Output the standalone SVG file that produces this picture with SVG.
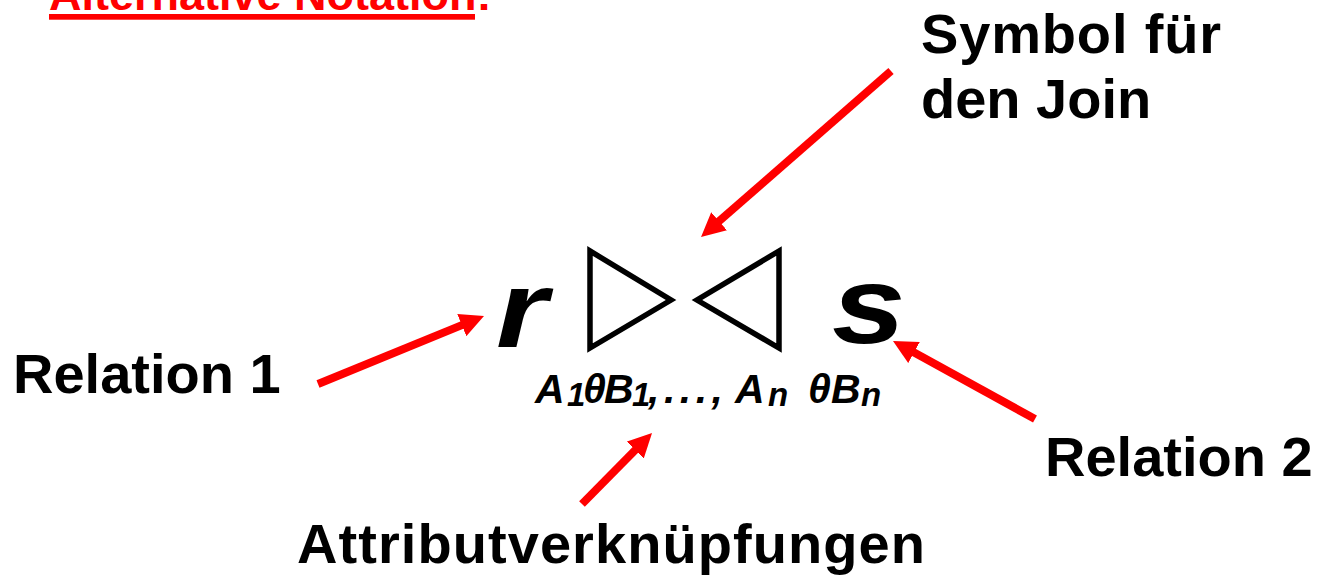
<svg xmlns="http://www.w3.org/2000/svg" width="1335" height="579" viewBox="0 0 1335 579">
  <style>
    .lbl { font-family: "Liberation Sans", Arial, sans-serif; font-weight: bold; font-size: 56px; fill: #000; }
    .title { font-family: "Liberation Sans", Arial, sans-serif; font-weight: bold; font-size: 45px; fill: #ff0000; }
    .rel { font-family: "Liberation Sans", Arial, sans-serif; font-weight: bold; font-style: italic; font-size: 110px; fill: #000; }
    .cond { font-family: "Liberation Sans", Arial, sans-serif; font-weight: bold; font-style: italic; font-size: 41px; fill: #000; }
    .sub { font-size: 33px; }
    .join { fill: none; stroke: #000; stroke-width: 5.5; stroke-linejoin: miter; }
    .arrow { fill: none; stroke: #ff0000; stroke-width: 8; stroke-linecap: butt; marker-end: url(#head); }
  </style>
  <defs>
    <marker id="head" markerUnits="userSpaceOnUse" markerWidth="24" markerHeight="24" viewBox="0 0 24 24" refX="4" refY="12" orient="auto">
      <path d="M0,0 L24,12 L0,24 z" fill="#ff0000"/>
    </marker>
  </defs>

  <rect width="1335" height="579" fill="#fff"/>

  <!-- heading, partly above the top edge -->
  <g id="heading">
    <text class="title" x="49" y="10">Alternative Notation<tspan>:</tspan></text>
    <rect x="49" y="14" width="426" height="5.7" fill="#ff0000"/>
  </g>

  <!-- join expression: r ⋈ s with its condition -->
  <g id="relation-r">
    <text class="rel" transform="translate(496,347) scale(1.2,1)">r</text>
  </g>
  <g id="join-symbol">
    <polygon class="join" points="590,251 590,348 671,300"/>
    <polygon class="join" points="779,251 779,348 697,300"/>
  </g>
  <g id="relation-s">
    <text class="rel" transform="translate(832,343) scale(1.2,1)">s</text>
  </g>
  <g id="join-condition">
    <text class="cond" y="403"><tspan x="535">A</tspan><tspan class="sub" x="567" dy="3">1</tspan><tspan x="583" dy="-3">θ</tspan><tspan x="604">B</tspan><tspan class="sub" x="632" dy="3">1</tspan><tspan x="648" dy="-3" letter-spacing="4.5">,...,</tspan><tspan x="735">A</tspan><tspan class="sub" x="768" dy="3">n</tspan><tspan x="808" dy="-3">θ</tspan><tspan x="831">B</tspan><tspan class="sub" x="861" dy="3">n</tspan></text>
  </g>

  <!-- annotation labels -->
  <g id="label-symbol">
    <text class="lbl" x="921" y="53" textLength="300" lengthAdjust="spacing">Symbol für</text>
    <text class="lbl" x="921" y="118">den Join</text>
  </g>
  <g id="label-relation1">
    <text class="lbl" x="13" y="393">Relation 1</text>
  </g>
  <g id="label-relation2">
    <text class="lbl" x="1045" y="476">Relation 2</text>
  </g>
  <g id="label-attributes">
    <text class="lbl" x="297" y="563" textLength="628" lengthAdjust="spacing">Attributverknüpfungen</text>
  </g>

  <!-- pointer arrows -->
  <g id="connectors">
    <line class="arrow" x1="318" y1="384" x2="465.5" y2="323.6"/>
    <line class="arrow" x1="582" y1="504" x2="638" y2="447.2"/>
    <line class="arrow" x1="891" y1="71" x2="716.1" y2="223.8"/>
    <line class="arrow" x1="1035" y1="419" x2="910.5" y2="350.6"/>
  </g>
</svg>
